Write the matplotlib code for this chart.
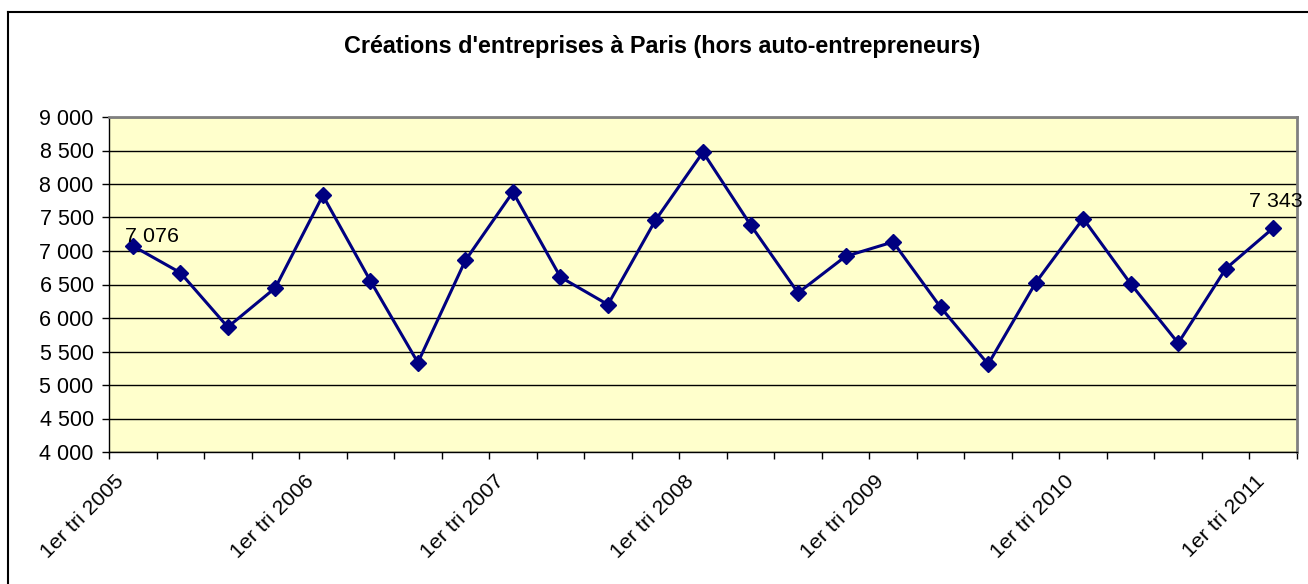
import numpy as np
import matplotlib.pyplot as plt
from matplotlib.ticker import FuncFormatter, FixedLocator
from matplotlib.transforms import ScaledTranslation
from matplotlib.lines import Line2D

plt.rcParams['font.family'] = ['Liberation Sans', 'DejaVu Sans']

# -- données : créations trimestrielles, 1er tri 2005 -> 1er tri 2011
trimestres = ['1er tri 2005', '2e tri 2005', '3e tri 2005', '4e tri 2005',
              '1er tri 2006', '2e tri 2006', '3e tri 2006', '4e tri 2006',
              '1er tri 2007', '2e tri 2007', '3e tri 2007', '4e tri 2007',
              '1er tri 2008', '2e tri 2008', '3e tri 2008', '4e tri 2008',
              '1er tri 2009', '2e tri 2009', '3e tri 2009', '4e tri 2009',
              '1er tri 2010', '2e tri 2010', '3e tri 2010', '4e tri 2010',
              '1er tri 2011']
creations = [7076, 6677, 5865, 6450, 7829, 6555, 5335, 6860,
             7880, 6610, 6200, 7460, 8475, 7390, 6375, 6920,
             7135, 6160, 5310, 6525, 7485, 6510, 5625, 6735, 7343]

def fmt_milliers(v, pos=None):
    return '{:,.0f}'.format(v).replace(',', ' ')

fig = plt.figure(figsize=(13.08, 5.84), dpi=100)
ax = fig.add_axes([109/1308, 1 - 452/584, 1188/1308, 335/584])

x = np.arange(len(creations))
ax.plot(x, creations, color='#000080', lw=2.2, marker='D', markersize=8.5,
        markerfacecolor='#000080', markeredgecolor='#000080', zorder=3)

ax.set_facecolor('#FFFFCC')
ax.set_xlim(-0.5, len(creations) - 0.5)
ax.set_ylim(4000, 9000)
ax.set_yticks(np.arange(4000, 9001, 500))
ax.yaxis.set_major_formatter(FuncFormatter(fmt_milliers))
ax.grid(axis='y', color='black', lw=1, zorder=1)
ax.set_axisbelow(True)

# graduations entre les catégories, étiquettes tous les 4 trimestres
ax.xaxis.set_major_locator(FixedLocator(np.arange(-0.5, len(creations), 1)))
ax.xaxis.set_major_formatter(FuncFormatter(lambda v, p: ''))
ax.set_xticks(x[::4], minor=True)
ax.set_xticklabels(trimestres[::4], minor=True, rotation=45, ha='right',
                   va='center', rotation_mode='anchor', fontsize=15.4)
ax.tick_params(axis='x', which='minor', length=0, pad=19)
ax.tick_params(axis='x', which='major', length=5, width=1, color='black')
ax.tick_params(axis='y', length=5, width=1, color='black', labelsize=15.5, pad=6)
for lab in ax.get_xticklabels(minor=True):
    lab.set_transform(lab.get_transform() + ScaledTranslation(-0.12, 0, fig.dpi_scale_trans))

for s in ['top', 'right']:
    ax.spines[s].set_color('#808080')
    ax.spines[s].set_linewidth(2)
for s in ['left', 'bottom']:
    ax.spines[s].set_color('black')
    ax.spines[s].set_linewidth(1)

# étiquettes de la première et de la dernière valeur
ax.annotate(fmt_milliers(creations[0]), (x[0], creations[0]), xytext=(14, 7),
            textcoords='offset points', ha='center', va='center', fontsize=15.4)
ax.annotate(fmt_milliers(creations[-1]), (x[-1], creations[-1]), xytext=(2, 19),
            textcoords='offset points', ha='center', va='center', fontsize=15.4,
            annotation_clip=False)

fig.text(662/1308, 1 - 47/584, "Créations d'entreprises à Paris (hors auto-entrepreneurs)",
         ha='center', va='center', fontsize=16.8, fontweight='bold')

# cadre du graphique
fig.add_artist(Line2D([8/1308, 8/1308], [0, 1 - 12/584], transform=fig.transFigure,
                      color='black', lw=1.5))
fig.add_artist(Line2D([8/1308, 1], [1 - 12/584, 1 - 12/584], transform=fig.transFigure,
                      color='black', lw=1.5))

fig.savefig('out.png', dpi=100)
